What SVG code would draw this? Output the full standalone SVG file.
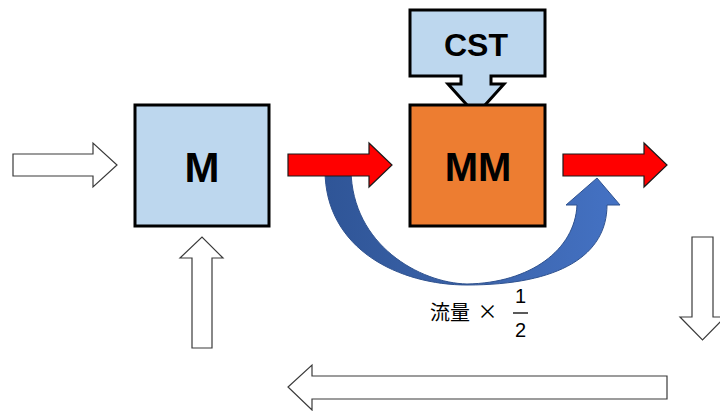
<svg xmlns="http://www.w3.org/2000/svg" width="720" height="411" viewBox="0 0 720 411">
  <style>
    .box { stroke: #000; stroke-width: 3; }
    .light { fill: #BDD7EE; }
    .orange { fill: #ED7D31; }
    .label { font-family: "Liberation Sans", Arial, sans-serif; font-weight: bold; fill: #000; text-anchor: middle; }
    .hollow { fill: #fff; stroke: #3a3a3a; stroke-width: 1.2; }
    .flow { fill: #FF0000; stroke: #1a1a1a; stroke-width: 1.2; }
    .note { font-family: "Liberation Sans", "Noto Sans CJK JP", sans-serif; fill: #000; }
    .cjk { font-family: "Noto Sans CJK JP", sans-serif; fill: #000; }
  </style>
  <defs>
    <linearGradient id="bypassFill" x1="0" y1="0" x2="1" y2="0">
      <stop offset="0" stop-color="#2F5597"/>
      <stop offset="0.5" stop-color="#3B63AA"/>
      <stop offset="1" stop-color="#4472C4"/>
    </linearGradient>
  </defs>

  <rect width="720" height="411" fill="#fff"/>

  <g id="connectors">
    <!-- inlet -->
    <path class="hollow" d="M13,154 H93 V143 L117,165 L93,187 V176 H13 Z"/>
    <!-- feed into M from below -->
    <path class="hollow" d="M192,348 V258 H180 L202,237 L223,258 H212 V348 Z"/>
    <!-- outlet going down on the right -->
    <path class="hollow" d="M692,237 H713 V317 H725 L702.5,340 L680,317 H692 Z"/>
    <!-- return line along the bottom -->
    <path class="hollow" d="M667,376 H312 V365 L288,387 L312,410 V399 H667 Z"/>
    <!-- bypass half flow, curved under MM -->
    <path fill="url(#bypassFill)" stroke="#2F528F" stroke-width="1" d="M325,170 C325,250 400,285 467,285 C560,285 607,255 607,205 L620,205 L597,178 L566,205 L577,205 C575,250 530,283 467,284 C420,283 352,245 351,170 Z"/>
    <!-- main flow arrows -->
    <path class="flow" d="M288,154 H369 V143 L392,165 L369,187 V176 H288 Z"/>
    <path class="flow" d="M563,154 H644 V143 L667,165 L644,187 V176 H563 Z"/>
  </g>

  <g id="node-cst">
    <path class="box light" d="M410,10 H545 V76 H491 V84 H504 L476,115 L448,84 H461 V76 H410 Z"/>
    <text class="label" x="476" y="56" font-size="32">CST</text>
  </g>

  <g id="node-m">
    <rect class="box light" x="135" y="105" width="134" height="121"/>
    <text class="label" x="202" y="182" font-size="42">M</text>
  </g>

  <g id="node-mm">
    <rect class="box orange" x="410" y="105" width="135" height="121"/>
    <text class="label" x="478" y="181" font-size="40">MM</text>
  </g>

  <g id="bypass-label">
    <text class="cjk" x="430" y="320" font-size="20">流量</text>
    <text class="cjk" x="487.5" y="319" font-size="20" text-anchor="middle">×</text>
    <text class="note" x="520.5" y="303" font-size="20" text-anchor="middle">1</text>
    <line x1="513" y1="313" x2="528" y2="313" stroke="#000" stroke-width="1.3"/>
    <text class="note" x="520.5" y="337" font-size="20" text-anchor="middle">2</text>
  </g>
</svg>
